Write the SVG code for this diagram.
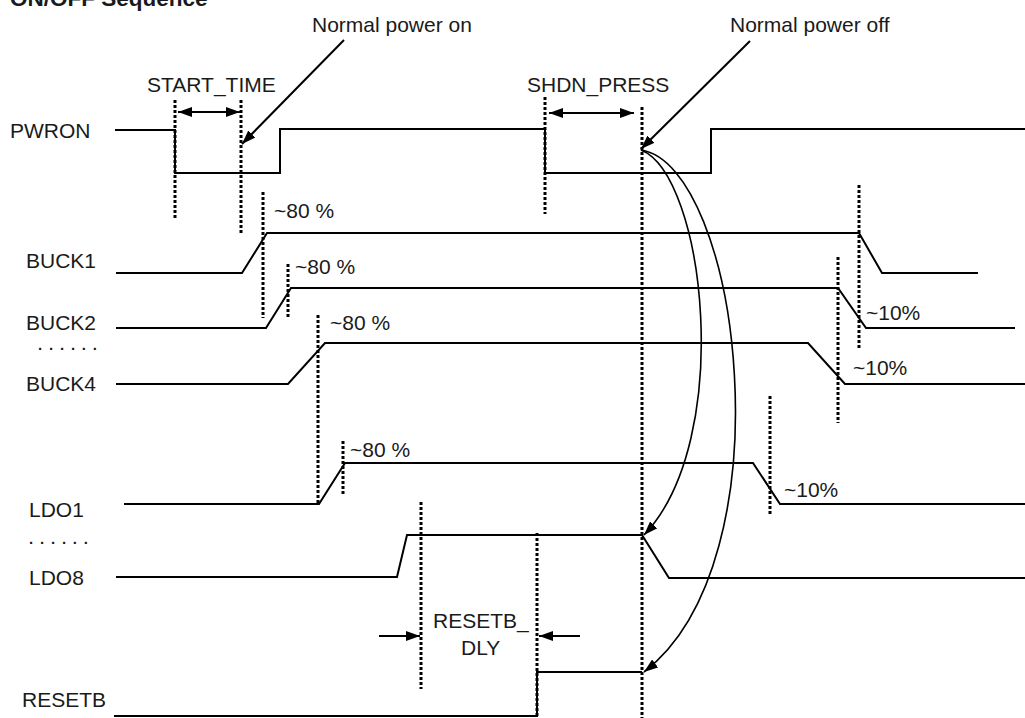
<svg xmlns="http://www.w3.org/2000/svg" width="1025" height="718" viewBox="0 0 1025 718">
<style>
text{font-family:"Liberation Sans",Arial,sans-serif;font-size:21px;fill:#1a1a1a}
.title{font-weight:bold;font-size:22.5px}
.dots{font-size:15px;letter-spacing:6.8px;font-weight:bold}
.wave{fill:none;stroke:#000;stroke-width:2}
.dot{fill:none;stroke:#000;stroke-width:3;stroke-dasharray:3 2}
.arr{fill:none;stroke:#000;stroke-width:2}
.cur{fill:none;stroke:#000;stroke-width:1.6}
</style>
<defs>
<marker id="ah" viewBox="0 0 14 10" refX="14" refY="5" markerWidth="14" markerHeight="10" markerUnits="userSpaceOnUse" orient="auto-start-reverse">
<path d="M0,0 L14,5 L0,10 Z" fill="#000"/>
</marker>
</defs>
<rect width="1025" height="718" fill="#fff"/>
<text class="title" x="10" y="6">ON/OFF Sequence</text>

<g id="PWRON">
<text x="10" y="138">PWRON</text>
<polyline class="wave" points="115,130 175,130 175,173 280,173 280,129 545,129 545,173 711,173 711,129 1025,129"/>
</g>
<g id="BUCK1">
<text x="26" y="268">BUCK1</text>
<polyline class="wave" points="116,273 242,273 267,233 859,233 882,273 978,273"/>
<text x="274" y="218">~80 %</text>
</g>
<g id="BUCK2">
<text x="26" y="330">BUCK2</text>
<polyline class="wave" points="116,328 266,328 291,288 838,288 866,328 1015,328"/>
<text x="295" y="274">~80 %</text>
<text x="866" y="320">~10%</text>
</g>
<text class="dots" x="38" y="350">......</text>
<g id="BUCK4">
<text x="26" y="391">BUCK4</text>
<polyline class="wave" points="116,384 288,384 325,343 808,343 845,384 1025,384"/>
<text x="330" y="330">~80 %</text>
<text x="853" y="375">~10%</text>
</g>
<g id="LDO1">
<text x="29" y="517">LDO1</text>
<polyline class="wave" points="124,504 319,504 345,463 753,463 780,504 1025,504"/>
<text x="350" y="457">~80 %</text>
<text x="784" y="497">~10%</text>
</g>
<text class="dots" x="29" y="544">......</text>
<g id="LDO8">
<text x="29" y="585">LDO8</text>
<polyline class="wave" points="116,577 397,577 407,535 642,535 669,578 1025,578"/>
</g>
<g id="RESETB">
<text x="22" y="707">RESETB</text>
<polyline class="wave" points="114,716 537,716 537,672 642,672"/>
<text x="433" y="628">RESETB_</text>
<text x="461" y="655">DLY</text>
</g>

<g id="markers-dotted">
<line class="dot" x1="175" y1="100" x2="175" y2="220"/>
<line class="dot" x1="241" y1="100" x2="241" y2="235"/>
<line class="dot" x1="263" y1="192" x2="263" y2="318"/>
<line class="dot" x1="288" y1="264" x2="288" y2="318"/>
<line class="dot" x1="318" y1="315" x2="318" y2="505"/>
<line class="dot" x1="343" y1="441" x2="343" y2="495"/>
<line class="dot" x1="421" y1="502" x2="421" y2="689"/>
<line class="dot" x1="537" y1="533" x2="537" y2="718"/>
<line class="dot" x1="545" y1="97" x2="545" y2="214"/>
<line class="dot" x1="642" y1="107" x2="642" y2="718"/>
<line class="dot" x1="770" y1="396" x2="770" y2="514"/>
<line class="dot" x1="838" y1="257" x2="838" y2="423"/>
<line class="dot" x1="859" y1="185" x2="859" y2="350"/>
</g>

<g id="labels">
<text x="147" y="92">START_TIME</text>
<text x="527" y="92">SHDN_PRESS</text>
<text x="312" y="32">Normal power on</text>
<text x="730" y="32">Normal power off</text>
</g>

<g id="connectors">
<line class="arr" x1="178" y1="112" x2="240" y2="112" marker-start="url(#ah)" marker-end="url(#ah)"/>
<line class="arr" x1="549" y1="113" x2="634" y2="113" marker-start="url(#ah)" marker-end="url(#ah)"/>
<line class="arr" x1="344" y1="40" x2="242" y2="144" marker-end="url(#ah)"/>
<line class="arr" x1="750" y1="41" x2="641" y2="149" marker-end="url(#ah)"/>
<line class="arr" x1="379" y1="636" x2="420" y2="636" marker-end="url(#ah)"/>
<line class="arr" x1="580" y1="636" x2="539" y2="636" marker-end="url(#ah)"/>
<path class="cur" d="M641,150 C705,175 735,440 644,535" marker-end="url(#ah)"/>
<path class="cur" d="M641,150 C740,165 790,560 644,672" marker-end="url(#ah)"/>
</g>
</svg>
